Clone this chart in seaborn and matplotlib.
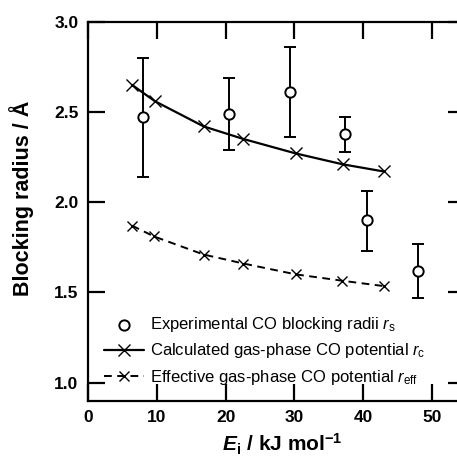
import matplotlib
matplotlib.use("Agg")
import matplotlib.pyplot as plt
import seaborn as sns
import pandas as pd
import numpy as np

# Data
exp_E = [8.0, 20.5, 29.3, 37.3, 40.5, 48.0]
exp_r = [2.47, 2.49, 2.61, 2.38, 1.90, 1.62]
exp_hi = [2.80, 2.69, 2.86, 2.47, 2.06, 1.77]
exp_lo = [2.14, 2.29, 2.36, 2.28, 1.73, 1.47]

calc_E = [6.4, 9.7, 16.8, 22.6, 30.2, 37.0, 43.0]
calc_r = [2.65, 2.56, 2.42, 2.35, 2.27, 2.21, 2.17]

eff_E = [6.4, 9.6, 16.8, 22.6, 30.2, 36.9, 43.0]
eff_r = [1.87, 1.81, 1.71, 1.66, 1.60, 1.565, 1.535]

sns.set_theme(style="ticks")
plt.rcParams['font.family'] = ['Liberation Sans', 'DejaVu Sans']
plt.rcParams['mathtext.fontset'] = 'custom'
plt.rcParams['mathtext.rm'] = 'Liberation Sans'
plt.rcParams['mathtext.it'] = 'Liberation Sans:italic'
plt.rcParams['mathtext.bf'] = 'Liberation Sans:bold'
plt.rcParams['mathtext.bfit'] = 'Liberation Sans:italic:bold'
for k in ['text.color', 'axes.labelcolor', 'xtick.color', 'ytick.color',
          'axes.edgecolor']:
    plt.rcParams[k] = 'black'

fig = plt.figure(figsize=(4.57, 4.59), dpi=100)
ax = fig.add_axes([88/457, 1-400.7/459, (465-88)/457, (400.7-21.7)/459])

df_calc = pd.DataFrame({"E": calc_E, "r": calc_r})
df_eff = pd.DataFrame({"E": eff_E, "r": eff_r})
df_exp = pd.DataFrame({"E": exp_E, "r": exp_r})

yerr = [np.array(exp_r) - np.array(exp_lo), np.array(exp_hi) - np.array(exp_r)]
ax.errorbar(exp_E, exp_r, yerr=yerr, fmt='none', ecolor='black', elinewidth=1.4,
            capsize=4, capthick=1.4, zorder=2)
sns.scatterplot(data=df_exp, x="E", y="r", ax=ax, marker='o', s=55,
                facecolor='white', edgecolor='black', linewidth=1.4, zorder=3,
                label=r"Experimental CO blocking radii $r_\mathregular{s}$")
sns.lineplot(data=df_calc, x="E", y="r", ax=ax, color='black', lw=1.6,
             marker='x', markersize=8, markeredgewidth=1.0,
             markeredgecolor='black', markerfacecolor='black',
             label=r"Calculated gas-phase CO potential $r_\mathregular{c}$")
sns.lineplot(data=df_eff, x="E", y="r", ax=ax, color='black', lw=1.4,
             marker='x', markersize=6.5, markeredgewidth=1.0,
             markeredgecolor='black', markerfacecolor='black',
             label=r"Effective gas-phase CO potential $r_\mathregular{eff}$")
ax.lines[-1].set_linestyle((0, (4, 2.8)))

ax.set_xlim(0, 54.8)
ax.set_ylim(0.9, 3.0)
ax.set_xticks([0, 10, 20, 30, 40, 50])
ax.set_yticks([1.0, 1.5, 2.0, 2.5, 3.0])
ax.set_yticklabels(["1.0", "1.5", "2.0", "2.5", "3.0"])
ax.tick_params(direction='in', length=12, width=1.6, top=True, right=True,
               labelsize=12.5, pad=7, colors='black')
for lab in ax.get_xticklabels() + ax.get_yticklabels():
    lab.set_fontweight('bold')
for sp in ax.spines.values():
    sp.set_linewidth(1.6)
    sp.set_color('black')

ax.set_xlabel(r"$\mathbfit{E}_\mathbf{i}$ / kJ mol$^\mathbf{-1}$", fontsize=15,
              fontweight='bold')
ax.xaxis.set_label_coords(0.515, -0.083)
ax.set_ylabel("Blocking radius / Å", fontsize=15.5, fontweight='bold')
ax.yaxis.set_label_coords(-0.142, 0.535)

handles, labels = ax.get_legend_handles_labels()
leg = ax.legend(handles, labels, loc='lower left',
                bbox_to_anchor=(0.016, 0.01), frameon=False,
                fontsize=12, handlelength=2.4, handletextpad=0.35,
                labelspacing=0.45, borderaxespad=0.2)
for t in leg.get_texts():
    t.set_color('black')

fig.savefig("out.png", dpi=100)
